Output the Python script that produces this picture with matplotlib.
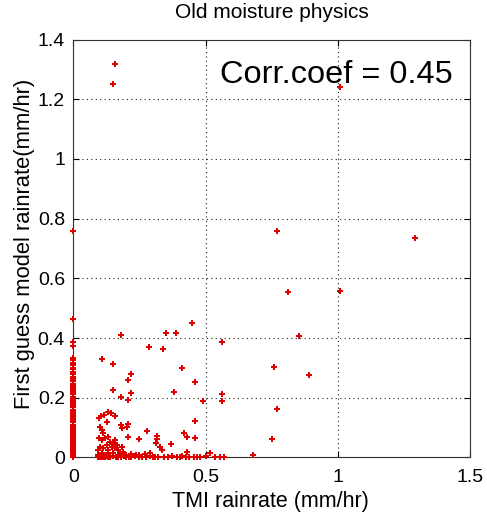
import matplotlib
matplotlib.use("Agg")
import matplotlib.pyplot as plt

plt.rcParams['font.family'] = ['Liberation Sans', 'DejaVu Sans']

title = "Old moisture physics"
x_label = "TMI rainrate (mm/hr)"
y_label = "First guess model rainrate(mm/hr)"
corr_text = "Corr.coef = 0.45"
x_ticks = [0, 0.5, 1, 1.5]
x_tick_labels = ["0", "0.5", "1", "1.5"]
y_ticks = [0, 0.2, 0.4, 0.6, 0.8, 1.0, 1.2, 1.4]
y_tick_labels = ["0", "0.2", "0.4", "0.6", "0.8", "1", "1.2", "1.4"]

# Points where TMI reports no rain (x = 0)
zero_tmi_model = [0.759, 0.465, 0.386, 0.373, 0.332, 0.325, 0.318, 0.309, 0.301,
                  0.296, 0.288, 0.279, 0.271, 0.262, 0.255, 0.247, 0.240, 0.233,
                  0.226, 0.218, 0.211, 0.203, 0.197, 0.189, 0.182, 0.175, 0.168,
                  0.160, 0.153, 0.147, 0.139, 0.131, 0.124, 0.118, 0.110, 0.103,
                  0.096, 0.089, 0.082, 0.075, 0.069, 0.062, 0.055, 0.049, 0.042,
                  0.036, 0.030, 0.024, 0.018, 0.013, 0.008, 0.004, 0.001]

# Points with nonzero TMI rain
tmi_rain = [0.158, 0.149, 0.772, 1.009, 1.293, 0.811, 1.009, 0.852, 0.760, 0.890,
            0.772, 0.753, 0.679, 0.109, 0.181, 0.288, 0.339, 0.349, 0.389, 0.450,
            0.561, 0.149, 0.412, 0.219, 0.208, 0.461, 0.149, 0.219, 0.380, 0.181,
            0.208, 0.492, 0.561, 0.561, 0.461, 0.105, 0.118, 0.133, 0.143, 0.158,
            0.097, 0.126, 0.101, 0.107, 0.114, 0.181, 0.183, 0.202, 0.208, 0.280,
            0.208, 0.250, 0.316, 0.318, 0.311, 0.328, 0.335, 0.370, 0.417, 0.430,
            0.461, 0.430, 0.518,
            0.096, 0.107, 0.120, 0.133, 0.139, 0.152, 0.158, 0.164, 0.145, 0.126,
            0.114, 0.101, 0.095, 0.133, 0.158, 0.170, 0.183, 0.189, 0.177, 0.107,
            0.133, 0.152, 0.095, 0.220, 0.250, 0.270, 0.290, 0.200, 0.236,
            0.095, 0.100, 0.105, 0.110, 0.115, 0.120, 0.125, 0.130, 0.135, 0.140,
            0.150, 0.160, 0.170, 0.180, 0.190, 0.200, 0.210, 0.220, 0.235, 0.250,
            0.260, 0.275, 0.290, 0.300, 0.310, 0.320, 0.342, 0.360, 0.375, 0.392,
            0.404, 0.411, 0.425, 0.436, 0.455, 0.467, 0.480, 0.500, 0.537, 0.556,
            0.570]
model_rain = [1.319, 1.251, 0.759, 1.240, 0.735, 0.555, 0.559, 0.406, 0.304, 0.276,
              0.161, 0.063, 0.009, 0.331, 0.409, 0.369, 0.365, 0.417, 0.417, 0.451,
              0.386, 0.314, 0.299, 0.281, 0.260, 0.253, 0.226, 0.215, 0.219, 0.203,
              0.192, 0.188, 0.213, 0.188, 0.121, 0.139, 0.142, 0.153, 0.150, 0.139,
              0.133, 0.120, 0.103, 0.092, 0.081, 0.109, 0.098, 0.103, 0.111, 0.089,
              0.070, 0.062, 0.073, 0.062, 0.048, 0.036, 0.025, 0.044, 0.081, 0.070,
              0.066, 0.019, 0.014,
              0.064, 0.059, 0.064, 0.070, 0.053, 0.048, 0.059, 0.042, 0.036, 0.042,
              0.031, 0.036, 0.025, 0.025, 0.031, 0.025, 0.036, 0.019, 0.014, 0.014,
              0.014, 0.014, 0.008, 0.012, 0.010, 0.012, 0.015, 0.010, 0.008,
              0.003, 0.002, 0.004, 0.001, 0.003, 0.002, 0.005, 0.001, 0.003, 0.002,
              0.004, 0.001, 0.003, 0.002, 0.004, 0.001, 0.003, 0.002, 0.004, 0.001,
              0.003, 0.002, 0.004, 0.001, 0.003, 0.002, 0.003, 0.002, 0.004, 0.003,
              0.002, 0.004, 0.001, 0.003, 0.002, 0.003, 0.002, 0.004, 0.003, 0.003,
              0.002]

fig = plt.figure(figsize=(4.87, 5.16), dpi=100)
ax = fig.add_axes([0.1505, 0.1134, 0.8145, 0.810])

marker_style = dict(linestyle='none', marker='P', markersize=4.4, color='#e00000',
                    markeredgewidth=0, clip_on=False, zorder=3)
ax.plot([0] * len(zero_tmi_model), zero_tmi_model, **marker_style)
ax.plot(tmi_rain, model_rain, **marker_style)

ax.set_xlim(0, 1.5)
ax.set_ylim(0, 1.4)
ax.set_xticks(x_ticks)
ax.set_xticklabels(x_tick_labels)
ax.set_yticks(y_ticks)
ax.set_yticklabels(y_tick_labels)
ax.tick_params(direction='in', top=True, right=True, labelsize=14,
               length=4, width=0.8)
ax.tick_params(axis='x', pad=8)
ax.tick_params(axis='y', pad=6)
ax.grid(True, color='#222222', linestyle=(0, (1, 3)), linewidth=0.8)
for s in ax.spines.values():
    s.set_linewidth(0.8)
    s.set_color('#333333')

fig.text(0.5585, 1 - 12 / 516, title, ha='center', va='center', fontsize=15)
fig.text(0.556, 1 - 502 / 516, x_label, ha='center', va='center', fontsize=15.5)
fig.text(25 / 487, 1 - 244 / 516, y_label, ha='center', va='center',
         rotation=90, fontsize=15.8)
ax.text(0.957, 0.915, corr_text, transform=ax.transAxes, ha='right', va='center',
        fontsize=23.4)

fig.savefig("out.png", dpi=100)
